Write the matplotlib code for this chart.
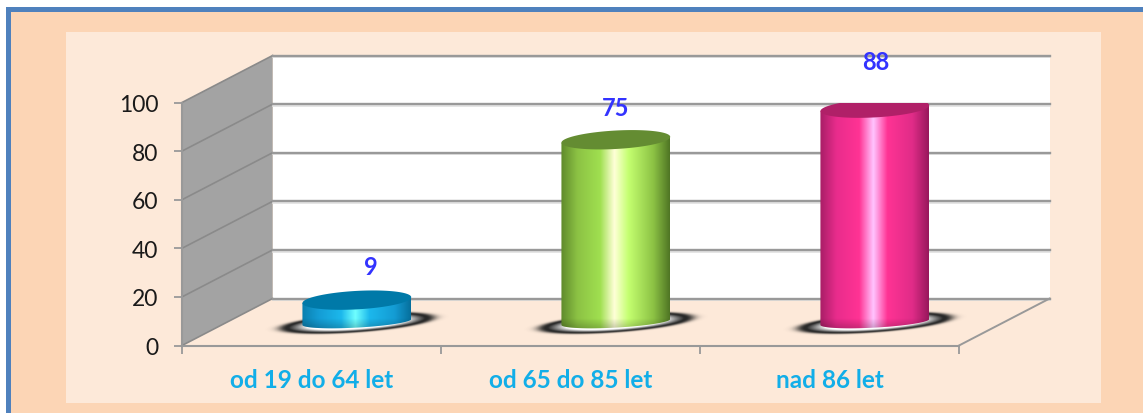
import matplotlib
matplotlib.use("Agg")
import matplotlib.pyplot as plt
import numpy as np
from matplotlib.colors import LinearSegmentedColormap
from matplotlib.patches import Polygon, Rectangle

categories = ["od 19 do 64 let", "od 65 do 85 let", "nad 86 let"]
values = [9, 75, 88]
y_ticks = [0, 20, 40, 60, 80, 100]

# bar colours: edge, body, highlight, top ellipse
side_colors = [
    ["#0a7fae", "#149cd4", "#1cb8ec", "#70ffff", "#1cb8ec", "#149cd4", "#066f9c"],
    ["#5f8a2c", "#8cc244", "#a0e050", "#ffffd8", "#c4ff70", "#8cc244", "#4f7524"],
    ["#a81e66", "#e82c8c", "#ff3394", "#ffc4ff", "#ff3394", "#e02c88", "#98185c"],
]
top_colors = ["#0079a8", "#648c32", "#b02068"]
label_nudges = [(14, 23.5), (0, 23), (1, 29)]  # px right, value units up

W, H = 1143, 414
GRID = "#999999"
DX, DY = 0.35, 19.34  # depth of the 3d box, in data units
BAR_A = 0.21

fig = plt.figure(figsize=(W / 100, H / 100), dpi=100)
fig.patch.set_facecolor("white")

# frame behind the chart, in pixels
bg = fig.add_axes([0, 0, 1, 1])
bg.set_xlim(0, W)
bg.set_ylim(H, 0)
bg.axis("off")
bg.add_patch(Rectangle((6, 8), W, H, fc="#4f81bd", ec="none"))
bg.add_patch(Rectangle((11, 13), W, H, fc="#fcd5b5", ec="none"))
bg.add_patch(Rectangle((66, 33), 1035, 371, fc="#fde9d9", ec="none"))

ax = fig.add_axes([182 / W, (H - 346.5) / H, 777 / W, 243 / H])
ax.patch.set_visible(False)

# walls
ax.add_patch(Polygon([(0, 0), (DX, DY), (DX, 100 + DY), (0, 100)],
                     fc="#a3a3a3", ec="none", clip_on=False, zorder=1))
ax.add_patch(Polygon([(DX, DY), (3 + DX, DY), (3 + DX, 100 + DY), (DX, 100 + DY)],
                     fc="white", ec="none", clip_on=False, zorder=1))

for t in y_ticks:
    ax.plot([0, DX], [t, t + DY], color="#8a8a8a", lw=1.2, clip_on=False, zorder=2)
    ax.plot([DX, 3 + DX], [t + DY - 0.7] * 2, color="#e0e0e0", lw=1.2,
            clip_on=False, zorder=2)
    ax.plot([DX, 3 + DX], [t + DY, t + DY], color=GRID, lw=1.7, clip_on=False, zorder=2)
ax.plot([3, 3 + DX], [0, DY], color=GRID, lw=1.4, clip_on=False, zorder=2)

base_y = DY / 2
for i, (val, cols, top_col) in enumerate(zip(values, side_colors, top_colors)):
    xc = i + 0.5 + DX / 2

    # blurred floor shadow with a pale core, tilted up to the right
    sx = np.linspace(xc - 0.42, xc + 0.42, 300)
    sy = np.linspace(base_y - 10, base_y + 10, 120)
    gx, gy = np.meshgrid(sx, sy)
    u = (gx - xc) / 0.33
    v = (gy - base_y + 0.6 - 2.5 * u) / 4.2
    r = np.sqrt(u ** 2 + v ** 2)
    rgba = np.zeros(r.shape + (4,))
    rgba[..., :3] = (0.16 + 0.84 * np.clip((0.80 - r) / 0.22, 0, 1))[..., None]
    rgba[..., 3] = np.where(r < 0.82, 1.0, np.exp(-((r - 0.82) / 0.11) ** 2))
    ax.imshow(rgba, extent=[sx[0], sx[-1], sy[0], sy[-1]], origin="lower",
              aspect="auto", interpolation="bilinear", zorder=3, clip_on=False)

    # cylinder side
    top_y = base_y + val
    th = np.linspace(0, np.pi, 60)
    x_arc = xc - BAR_A * np.cos(th)
    low = base_y - 2.3 * np.sin(th) - 1.2 * np.cos(th)
    side = np.column_stack([
        np.r_[x_arc, xc + BAR_A, xc - BAR_A],
        np.r_[low, top_y + 1.2, top_y - 1.2],
    ])
    clip = Polygon(side, fc="none", ec="none", zorder=4)
    ax.add_patch(clip)
    cmap = LinearSegmentedColormap.from_list(
        "side", list(zip([0, 0.15, 0.36, 0.49, 0.62, 0.85, 1], cols)))
    im = ax.imshow(np.linspace(0, 1, 256)[None, :], cmap=cmap, aspect="auto",
                   extent=[xc - BAR_A, xc + BAR_A, base_y - 4, top_y + 2],
                   interpolation="bilinear", zorder=4)
    im.set_clip_path(clip)

    # slightly darker foot of the cylinder
    foot = np.zeros((40, 1, 4))
    foot[..., 3] = np.linspace(0.28, 0, 40)[:, None]
    im2 = ax.imshow(foot, aspect="auto", origin="lower",
                    extent=[xc - BAR_A, xc + BAR_A, base_y - 4, base_y + 1.5],
                    interpolation="bilinear", zorder=4.1)
    im2.set_clip_path(clip)

    # top ellipse
    th = np.linspace(0, 2 * np.pi, 120)
    ax.add_patch(Polygon(np.column_stack([
        xc + BAR_A * np.cos(th),
        top_y + 3.8 * np.sin(th) + 1.2 * np.cos(th),
    ]), fc=top_col, ec="none", zorder=5))

    # value label
    nudge_x, nudge_y = label_nudges[i]
    ax.text(xc + nudge_x / 259, val + nudge_y, str(val), color="#3333ff",
            fontsize=17, fontweight="bold", ha="center", va="center",
            clip_on=False, zorder=6)

ax.set_xlim(0, 3)
ax.set_ylim(0, 100)

ax.spines["top"].set_visible(False)
ax.spines["right"].set_visible(False)
for s in ["left", "bottom"]:
    ax.spines[s].set_color(GRID)
    ax.spines[s].set_linewidth(1.5)
    ax.spines[s].set_zorder(2.5)

ax.set_yticks(y_ticks)
ax.tick_params(axis="y", length=6, width=1.3, color=GRID, pad=11,
               labelsize=16.5, labelcolor="#1a1a1a")
ax.set_xticks([0, 1, 2, 3])
ax.set_xticklabels([])
ax.tick_params(axis="x", which="major", length=6, width=1.3, color=GRID)
ax.set_xticks([0.5, 1.5, 2.5], minor=True)
ax.set_xticklabels(categories, minor=True, color="#12aee8", fontsize=17.5,
                   fontweight="bold")
ax.tick_params(axis="x", which="minor", length=0, pad=16)

for lab in ax.get_yticklabels() + ax.get_xticklabels(minor=True):
    lab.set_fontfamily("Lato")
for t in ax.texts:
    t.set_fontfamily("Lato")

fig.savefig("out.png", dpi=100)
